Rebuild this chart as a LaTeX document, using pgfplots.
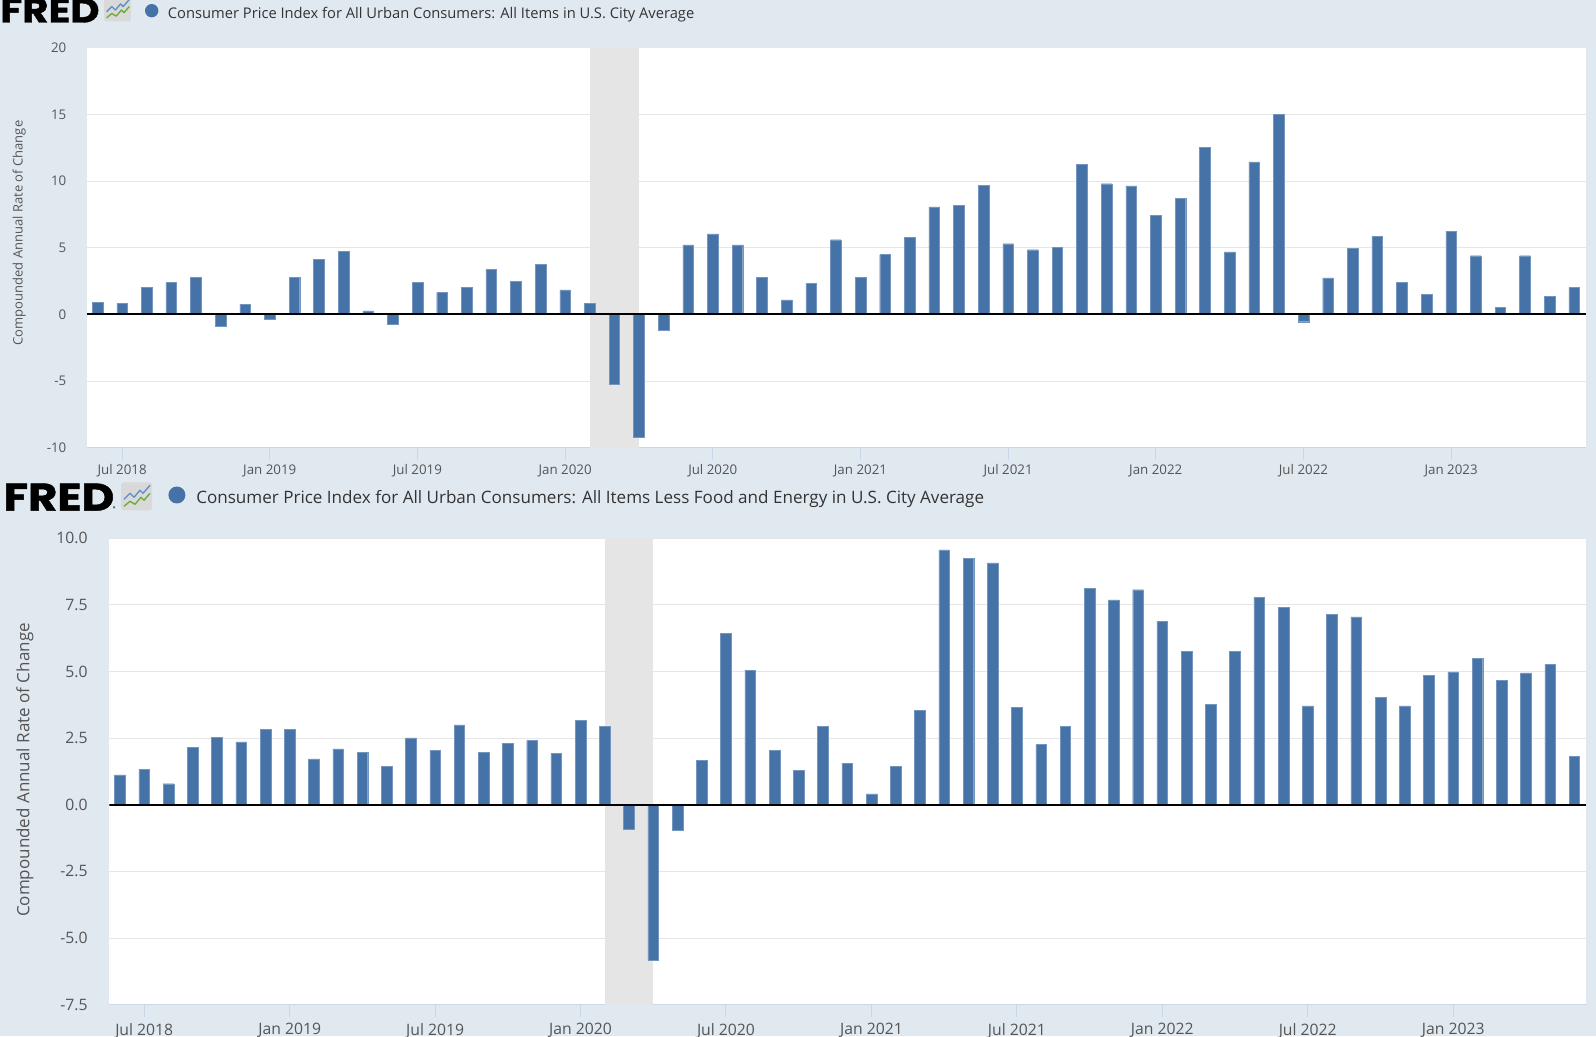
\documentclass[border=0pt]{standalone}
\usepackage{fontspec}
\setmainfont{Open Sans}
\newfontfamily\logofont{Poppins}[BoldFeatures={FakeBold=1.2}]
\usepackage{pgfplots}
\pgfplotsset{compat=1.18}
\usepackage{pgfplotstable}

\definecolor{bgcol}{HTML}{E1E9F0}
\definecolor{barcol}{HTML}{4572A7}
\definecolor{gridcol}{HTML}{E6E6E6}
\definecolor{shadecol}{HTML}{E5E5E5}
\definecolor{axcol}{HTML}{CCD6EB}
\definecolor{txtcol}{HTML}{333333}
\definecolor{tickcol}{HTML}{555555}
\definecolor{iconblue}{HTML}{5B8FC9}
\definecolor{icongreen}{HTML}{6AAA3A}

% month index: 0 = Jun 2018 ... 60 = Jun 2023
\pgfplotstableread{
m v
0 0.92
1 0.82
2 2.01
3 2.39
4 2.76
5 -0.92
6 0.75
7 -0.37
8 2.76
9 4.13
10 4.75
11 0.27
12 -0.75
13 2.39
14 1.64
15 2.01
16 3.38
17 2.49
18 3.76
19 1.84
20 0.82
21 -5.22
22 -9.18
23 -1.17
24 5.22
25 6.04
26 5.22
27 2.76
28 1.09
29 2.31
30 5.60
31 2.76
32 4.48
33 5.77
34 8.06
35 8.16
36 9.70
37 5.30
38 4.85
39 5.05
40 11.27
41 9.80
42 9.63
43 7.41
44 8.71
45 12.54
46 4.68
47 11.44
48 15.02
49 -0.55
50 2.74
51 4.95
52 5.87
53 2.39
54 1.49
55 6.22
56 4.40
57 0.55
58 4.40
59 1.37
60 2.01
}\cpiall

\pgfplotstableread{
m v
0 1.12
1 1.33
2 0.79
3 2.15
4 2.53
5 2.36
6 2.84
7 2.84
8 1.72
9 2.10
10 1.98
11 1.44
12 2.51
13 2.04
14 3.00
15 1.98
16 2.31
17 2.41
18 1.93
19 3.17
20 2.95
21 -0.92
22 -5.85
23 -0.97
24 1.66
25 6.44
26 5.05
27 2.05
28 1.28
29 2.95
30 1.56
31 0.41
32 1.44
33 3.54
34 9.56
35 9.25
36 9.08
37 3.66
38 2.26
39 2.95
40 8.12
41 7.69
42 8.07
43 6.88
44 5.75
45 3.76
46 5.75
47 7.79
48 7.42
49 3.71
50 7.14
51 7.05
52 4.03
53 3.71
54 4.85
55 4.99
56 5.49
57 4.67
58 4.95
59 5.26
60 1.82
}\cpicore

\newcommand{\fredicon}{%
  \fill[gray!30, rounded corners=2] (0,0) rectangle (31,28);
  \draw[iconblue, line width=1pt, line join=round] (3,17) -- (9,11) -- (13,15) -- (19,8) -- (22,11) -- (29,3);
  \draw[icongreen, line width=1pt, line join=round] (3,24) -- (9,19) -- (14,22) -- (20,15) -- (23,18) -- (29,11);
}

\pgfplotsset{
  fredaxis/.style={
    anchor=south west, scale only axis,
    xmin=-0.44, xmax=60.48,
    axis background/.style={fill=white},
    axis x line=bottom, axis y line=left,
    x axis line style={draw=axcol, line width=0.75pt, -},
    y axis line style={draw=none},
    xtick={1,7,13,19,25,31,37,43,49,55},
    xticklabels={Jul 2018,Jan 2019,Jul 2019,Jan 2020,Jul 2020,Jan 2021,Jul 2021,Jan 2022,Jul 2022,Jan 2023},
    tick align=outside,
    xtick style={draw=axcol, line width=0.75pt},
    ytick style={draw=none},
    ymajorgrids, grid style={draw=gridcol, line width=0.75pt},
    tick label style={text=tickcol},
    clip=true,
  },
}

\begin{document}
\begin{tikzpicture}
\fill[bgcol] (0,0) rectangle (1197pt,777pt);
\useasboundingbox (0,0) rectangle (1197pt,777pt);

% ---------------- top chart ----------------
\begin{axis}[fredaxis,
  at={(65.0pt,441.2pt)}, width=1124.5pt, height=300pt,
  ymin=-10, ymax=20,
  ytick={-10,-5,0,5,10,15,20}, yticklabels={-10,-5,0,5,10,15,20},
  major tick length=9pt,
  tick label style={font=\fontsize{10}{12}\selectfont},
  yticklabel style={xshift=-2.7pt},
]
\fill[shadecol] (axis cs:20,-10) rectangle (axis cs:22,20);
\addplot[ybar, bar width=8pt, fill=barcol, draw=barcol!75!white, line width=0.3pt] table[x=m,y=v] {\cpiall};
\draw[black, line width=1.5pt] (axis cs:-0.44,0) -- (axis cs:60.48,0);
\end{axis}

% ---------------- bottom chart ----------------
\begin{axis}[fredaxis,
  at={(82.0pt,23.5pt)}, width=1107.5pt, height=349.8pt,
  ymin=-7.5, ymax=10,
  ytick={-7.5,-5,-2.5,0,2.5,5,7.5,10}, yticklabels={-7.5,-5.0,-2.5,0.0,2.5,5.0,7.5,10.0},
  major tick length=9.5pt,
  tick label style={font=\fontsize{11.8}{14}\selectfont},
  yticklabel style={xshift=-3.3pt},
  xticklabel style={yshift=-1pt},
]
\fill[shadecol] (axis cs:20,-7.5) rectangle (axis cs:22,10);
\addplot[ybar, bar width=8pt, fill=barcol, draw=barcol!75!white, line width=0.3pt] table[x=m,y=v] {\cpicore};
\draw[black, line width=1.5pt] (axis cs:-0.44,0) -- (axis cs:60.48,0);
\end{axis}

% ---------------- headers, labels (pixel coordinates from top-left) ----------------
\begin{scope}[x=0.75pt, y=-0.75pt, yshift=777pt]
  % top header
  \node[anchor=base west, inner sep=0, xscale=1.16] at (0,22.5) {\logofont\bfseries\fontsize{26}{27}\selectfont FRED};
  \begin{scope}[shift={(104,-3)}, scale=0.87] \fredicon \end{scope}
  \fill[barcol] (151.7,10.7) circle[radius=6.7];
  \node[anchor=base west, inner sep=0, text=txtcol, font=\fontsize{11.03}{12}\selectfont] at (167.7,18.3)
    {Consumer Price Index for All Urban Consumers: All Items in U.S. City Average};
  \node[rotate=90, text=tickcol, font=\fontsize{9.75}{11}\selectfont] at (19.3,233) {Compounded Annual Rate of Change};

  % bottom header
  \node[anchor=base west, inner sep=0, xscale=1.16] at (3.3,510.7) {\logofont\bfseries\fontsize{29}{30}\selectfont FRED};
  \node[anchor=base west, inner sep=0] at (112.5,510.7) {\logofont\fontsize{4}{5}\selectfont ®};
  \begin{scope}[shift={(121,482.3)}] \fredicon \end{scope}
  \fill[barcol] (176.9,495) circle[radius=8.5];
  \node[anchor=base west, inner sep=0, text=txtcol, font=\fontsize{12.8}{14}\selectfont] at (196,503.3)
    {Consumer Price Index for All Urban Consumers: All Items Less Food and Energy in U.S. City Average};
  \node[rotate=90, text=tickcol, font=\fontsize{12.75}{14}\selectfont] at (25,770) {Compounded Annual Rate of Change};
\end{scope}
\end{tikzpicture}
\end{document}
